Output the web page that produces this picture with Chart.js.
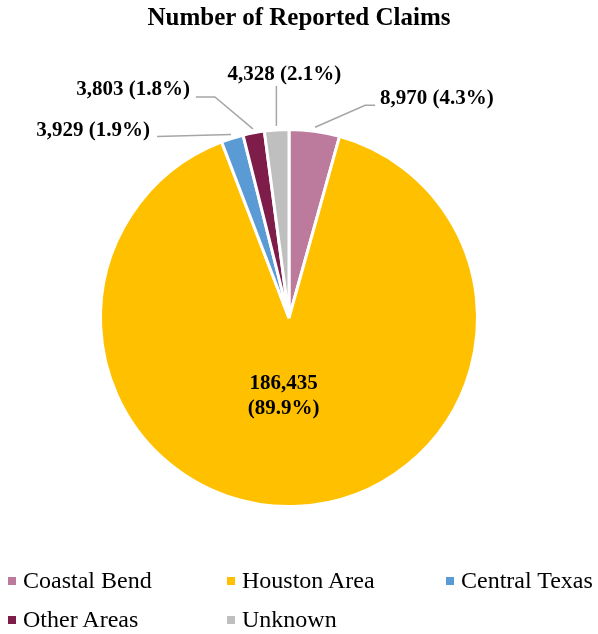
<!DOCTYPE html>
<html>
<head>
<meta charset="utf-8">
<script src="https://cdn.jsdelivr.net/npm/chart.js@4.4.1/dist/chart.umd.min.js"></script>
<style>
  html, body { margin: 0; padding: 0; background: #fff; }
  #wrap { position: relative; width: 598px; height: 634px; font-family: 'Liberation Serif', 'Times New Roman', serif; }
  #claimsChart { position: absolute; left: 0; top: 0; }
  #title { position: absolute; left: 0; top: 2px; width: 598px; text-align: center; font-weight: bold; font-size: 25px; line-height: 30px; }
  #legend { position: absolute; left: 8px; top: 561px; display: grid; grid-template-columns: 219px 219px 150px; }
  .item { display: flex; align-items: center; height: 39px; font-size: 24px; white-space: nowrap; }
  .box { width: 8px; height: 8px; margin-right: 7px; flex: none; }
</style>
</head>
<body>
<div id="wrap">
  <canvas id="claimsChart" width="598" height="634"></canvas>
  <div id="title">Number of Reported Claims</div>
  <div id="legend"></div>
</div>
<script>
const regions = ['Coastal Bend', 'Houston Area', 'Central Texas', 'Other Areas', 'Unknown'];
const claims = [8970, 186435, 3929, 3803, 4328];
const sliceColors = ['#BC7B9C', '#FFC000', '#5B9BD5', '#7E1C4A', '#BFBFBF'];

// where each label sits, relative to the point just outside its slice
const labelPlacement = {
    'Coastal Bend': { elbow: [50, -22], run: 10, text: [15, -7], align: 'left' },
    'Houston Area': { inside: true, radius: 0.41, shift: [-9, 0] },
    'Central Texas': { elbow: [-74, 2], run: 0, text: [-7, -6], align: 'right' },
    'Other Areas': { elbow: [-38, -32], run: -19, text: [-25, -7], align: 'right' },
    'Unknown': { elbow: [0, -40], run: 0, text: [8, -11], align: 'center' }
};

const total = claims.reduce((a, b) => a + b, 0);
const fmtValue = v => v.toLocaleString('en-US');
const fmtPct = v => '(' + (v / total * 100).toFixed(1) + '%)';

const sliceLabels = {
    id: 'sliceLabels',
    afterDatasetsDraw(chart) {
        const ctx = chart.ctx;
        const arcs = chart.getDatasetMeta(0).data;
        ctx.save();
        ctx.font = 'bold 21px "Liberation Serif", "Times New Roman", serif';
        ctx.fillStyle = '#000';
        ctx.textBaseline = 'middle';
        arcs.forEach((arc, i) => {
            const p = labelPlacement[regions[i]];
            const mid = (arc.startAngle + arc.endAngle) / 2;
            if (p.inside) {
                const r = arc.outerRadius * p.radius;
                const x = arc.x + Math.cos(mid) * r + p.shift[0];
                const y = arc.y + Math.sin(mid) * r + p.shift[1];
                ctx.textAlign = 'center';
                ctx.fillText(fmtValue(claims[i]), x, y - 12);
                ctx.fillText(fmtPct(claims[i]), x, y + 13);
                return;
            }
            const r = arc.outerRadius + 4;
            const ax = arc.x + Math.cos(mid) * r;
            const ay = arc.y + Math.sin(mid) * r;
            const ex = ax + p.elbow[0];
            const ey = ay + p.elbow[1];
            ctx.strokeStyle = '#A6A6A6';
            ctx.lineWidth = 1.5;
            ctx.beginPath();
            ctx.moveTo(ax, ay);
            ctx.lineTo(ex, ey);
            if (p.run) ctx.lineTo(ex + p.run, ey);
            ctx.stroke();
            ctx.textAlign = p.align;
            ctx.fillText(fmtValue(claims[i]) + ' ' + fmtPct(claims[i]), ex + p.text[0], ey + p.text[1]);
        });
        ctx.restore();
    }
};

const ctx = document.getElementById('claimsChart').getContext('2d');
new Chart(ctx, {
    type: 'pie',
    data: {
        labels: regions,
        datasets: [{
            data: claims,
            backgroundColor: sliceColors,
            borderColor: '#ffffff',
            borderWidth: 3
        }]
    },
    options: {
        responsive: false,
        animation: false,
        devicePixelRatio: 1,
        layout: { padding: { top: 128, bottom: 126, left: 99, right: 119 } },
        plugins: {
            legend: { display: false },
            tooltip: { enabled: false }
        }
    },
    plugins: [sliceLabels]
});

// legend in three columns, filled row by row
const legend = document.getElementById('legend');
regions.forEach((name, i) => {
    const item = document.createElement('div');
    item.className = 'item';
    const box = document.createElement('span');
    box.className = 'box';
    box.style.background = sliceColors[i];
    item.appendChild(box);
    item.appendChild(document.createTextNode(name));
    legend.appendChild(item);
});
</script>
</body>
</html>
